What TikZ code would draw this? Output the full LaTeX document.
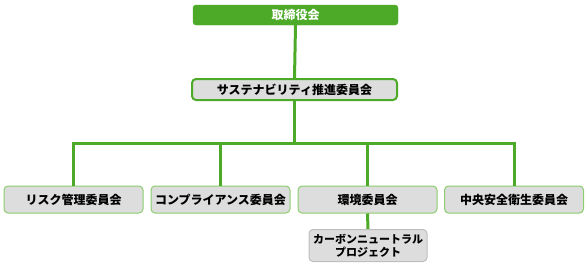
\documentclass[tikz,border=0pt]{standalone}
\usepackage{fontspec}
\setmainfont{Noto Sans CJK JP}
\definecolor{orggreen}{RGB}{76,170,40}
\definecolor{lightgreen}{RGB}{140,205,110}
\definecolor{boxgray}{RGB}{221,221,221}
\definecolor{subborder}{RGB}{190,190,190}

\begin{document}
\begin{tikzpicture}[x=1pt,y=-1pt,
	topbox/.style={fill=orggreen,draw=orggreen,rounded corners=3pt,minimum width=205pt,minimum height=20pt,text=white,font=\fontsize{12}{14}\selectfont\bfseries,inner sep=0pt},
	midbox/.style={fill=boxgray,draw=orggreen,line width=2pt,rounded corners=4pt,minimum width=205pt,minimum height=21pt,font=\fontsize{12}{14}\selectfont\bfseries,inner sep=0pt},
	combox/.style={fill=boxgray,draw=lightgreen,line width=1pt,rounded corners=4pt,minimum width=139pt,minimum height=27pt,font=\fontsize{12}{14}\selectfont\bfseries,inner sep=0pt},
	projbox/.style={fill=boxgray,draw=subborder,line width=1pt,rounded corners=4pt,minimum width=118pt,minimum height=32pt,font=\fontsize{11}{13}\selectfont\bfseries,align=center,inner sep=0pt},
	link/.style={draw=orggreen,line width=3pt}]
	\useasboundingbox (0,0) rectangle (588,266);
	\draw (295.5,15) node[topbox] (board) {取締役会};
	\draw (294.5,89.5) node[midbox] (sus) {サステナビリティ推進委員会};
	\draw (73.5,199.5) node[combox] (risk) {リスク管理委員会};
	\draw (220.5,199.5) node[combox] (comp) {コンプライアンス委員会};
	\draw (367.5,199.5) node[combox] (env) {環境委員会};
	\draw (514,199.5) node[combox] (safety) {中央安全衛生委員会};
	\draw (368,245.5) node[projbox] (carbon) {カーボンニュートラル\\プロジェクト};
	\coordinate (bar) at (294.5,143);
	% connectors
	\draw[link] (board.south) -- (sus.north);
	\draw[link] (sus.south) -- (bar);
	\draw[link] (risk.north) -- (risk.north |- bar) -- (safety.north |- bar) -- (safety.north);
	\draw[link] (comp.north) -- (comp.north |- bar);
	\draw[link] (env.north) -- (env.north |- bar);
	\draw[link] (env.south) -- (carbon.north);
\end{tikzpicture}
\end{document}
